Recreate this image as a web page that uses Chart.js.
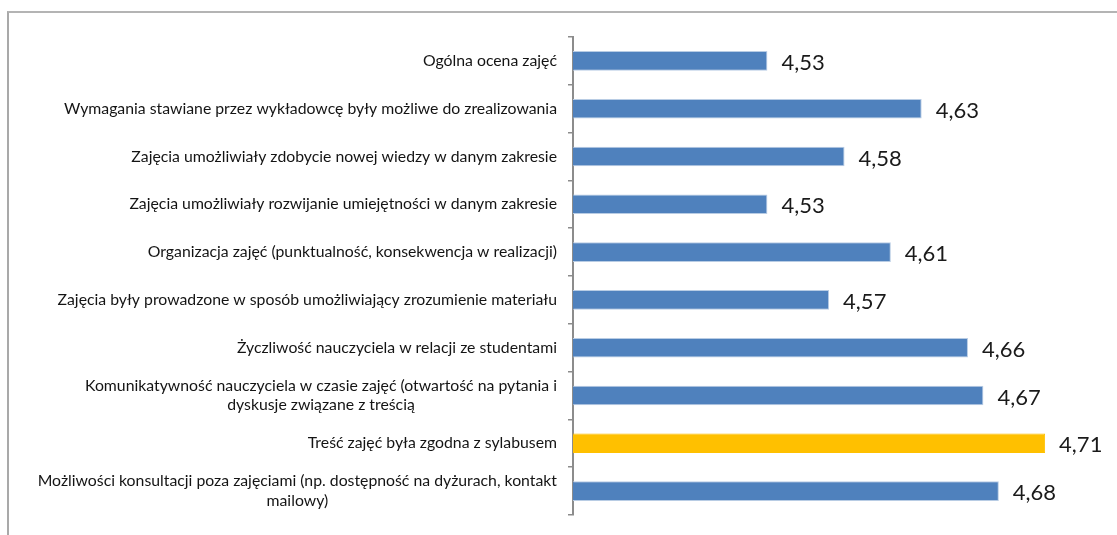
<!DOCTYPE html>
<html>
<head>
<meta charset="utf-8">
<script src="https://cdn.jsdelivr.net/npm/chart.js@4.4.1/dist/chart.umd.min.js"></script>
<style>
  html, body { margin: 0; padding: 0; background: #fff; overflow: hidden; }
  #wrap { position: relative; width: 1117px; height: 535px; }
  #frame { position: absolute; left: 7px; top: 11px; width: 1200px; height: 600px;
           border-left: 2px solid #a9a9a9; border-top: 2px solid #b4b4b4; }
  canvas { position: absolute; left: 0; top: 0; }
</style>
</head>
<body>
<div id="wrap">
  <div id="frame"></div>
  <canvas id="c" width="1117" height="535"></canvas>
</div>
<script>
// survey questions, top to bottom (arrays = two-line labels)
const categories = [
  'Ogólna ocena zajęć',
  'Wymagania stawiane przez wykładowcę były możliwe do zrealizowania',
  'Zajęcia umożliwiały zdobycie nowej wiedzy w danym zakresie',
  'Zajęcia umożliwiały rozwijanie umiejętności w danym zakresie',
  'Organizacja zajęć (punktualność, konsekwencja w realizacji)',
  'Zajęcia były prowadzone w sposób umożliwiający zrozumienie materiału',
  'Życzliwość nauczyciela w relacji ze studentami',
  ['Komunikatywność nauczyciela w czasie zajęć (otwartość na pytania i', 'dyskusje związane z treścią'],
  'Treść zajęć była zgodna z sylabusem',
  ['Możliwości konsultacji poza zajęciami (np. dostępność na dyżurach, kontakt', 'mailowy)'],
];
const scores = [4.53, 4.63, 4.58, 4.53, 4.61, 4.57, 4.66, 4.67, 4.71, 4.68];

const BLUE = '#4f81bd';
const YELLOW = '#ffc000';
const best = scores.indexOf(Math.max(...scores));
const fmt = v => v.toFixed(2).replace('.', ',');

// category labels: block right-aligned to the axis, lines centred inside the block
const catLabels = {
  id: 'catLabels',
  afterDraw(chart) {
    const { ctx } = chart;
    const y = chart.scales.y;
    const right = chart.chartArea.left - 16;
    ctx.save();
    ctx.font = '15.8px Lato';
    ctx.fillStyle = '#141414';
    ctx.textBaseline = 'middle';
    ctx.textAlign = 'center';
    categories.forEach((lab, i) => {
      const lines = Array.isArray(lab) ? lab : [lab];
      const w = Math.max(...lines.map(l => ctx.measureText(l).width));
      const cy = y.getPixelForValue(i);
      const lh = 19.5;
      lines.forEach((l, k) => {
        ctx.fillText(l, right - w / 2, cy + (k - (lines.length - 1) / 2) * lh);
      });
    });
    ctx.restore();
  }
};

// value labels to the right of each bar
const valLabels = {
  id: 'valLabels',
  afterDatasetsDraw(chart) {
    const { ctx } = chart;
    const meta = chart.getDatasetMeta(0);
    ctx.save();
    ctx.font = '22px Lato';
    ctx.fillStyle = '#1a1a1a';
    ctx.textBaseline = 'middle';
    ctx.textAlign = 'left';
    meta.data.forEach((bar, i) => {
      ctx.fillText(fmt(scores[i]), bar.x + 14, bar.y + 2);
    });
    ctx.restore();
  }
};

new Chart(document.getElementById('c').getContext('2d'), {
  type: 'bar',
  data: {
    labels: categories,
    datasets: [{
      data: scores,
      backgroundColor: ctx => ctx.dataIndex === best ? YELLOW : BLUE,
      borderColor: ctx => ctx.dataIndex === best ? YELLOW : '#b8cce4',
      borderWidth: 1,
      borderSkipped: 'left',
      categoryPercentage: 1,
      barPercentage: 0.41,
    }],
  },
  options: {
    indexAxis: 'y',
    responsive: false,
    animation: false,
    devicePixelRatio: 1,
    layout: { padding: { top: 37, bottom: 20, right: 4 } },
    plugins: { legend: { display: false }, tooltip: { enabled: false } },
    scales: {
      x: { display: false, min: 4.404, max: 4.754 },
      y: {
        position: 'left',
        afterFit: s => { s.width = 573; },
        ticks: { display: false },
        grid: { display: true, drawOnChartArea: false, drawTicks: true, tickLength: 5, offset: true, color: '#8c8c8c', lineWidth: 1.5 },
        border: { display: true, color: '#8c8c8c', width: 2 },
      },
    },
  },
  plugins: [catLabels, valLabels],
});
</script>
</body>
</html>
